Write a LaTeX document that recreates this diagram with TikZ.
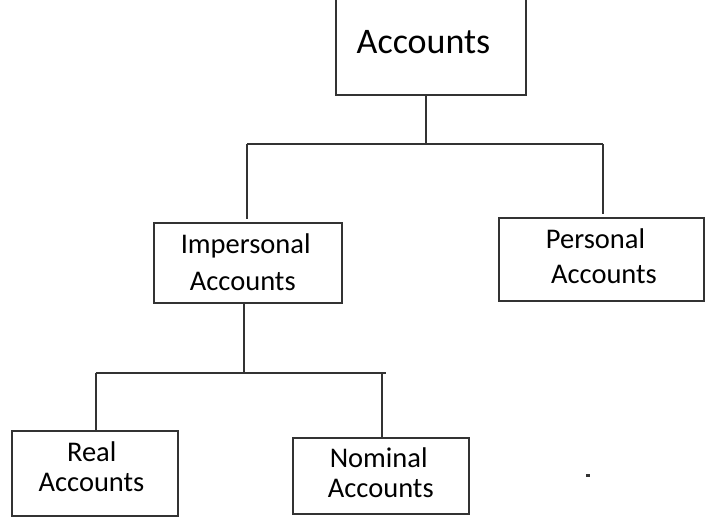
\documentclass[tikz,border=0pt]{standalone}
\usepackage{fontspec}
\setmainfont{Carlito}
\begin{document}
\begin{tikzpicture}[x=1pt,y=-1pt,
  box/.style={draw=black!80, line width=1.7pt, rectangle, inner sep=0pt},
  conn/.style={draw=black!80, line width=1.7pt},
  lbl/.style={anchor=base, inner sep=0pt, font=\fontsize{28.5}{34}\selectfont},
  biglbl/.style={anchor=base, inner sep=0pt, font=\fontsize{36}{40}\selectfont}]
\useasboundingbox (0,0) rectangle (714,521);
% boxes
\node[box, minimum width=190.3pt, minimum height=97pt] (acc) at (430.85,46.5) {};
\node[box, minimum width=187.7pt, minimum height=80pt] (imp) at (247.85,262.7) {};
\node[box, minimum width=205pt, minimum height=82.7pt] (per) at (601.5,259.65) {};
\node[box, minimum width=166.3pt, minimum height=85pt] (real) at (94.85,473.5) {};
\node[box, minimum width=176pt, minimum height=76.6pt] (nom) at (381.3,476) {};
% labels
\node[biglbl] (accT) at (423.5,54) {Accounts};
\node[lbl] (impA) at (245.7,253) {Impersonal};
\node[lbl] (impB) at (242.8,290.7) {Accounts};
\node[lbl] (perA) at (595.5,248.3) {Personal};
\node[lbl] (perB) at (604,283.3) {Accounts};
\node[lbl] (realA) at (91.7,461.7) {Real};
\node[lbl] (realB) at (91.5,491.7) {Accounts};
\node[lbl] (nomA) at (378.7,467.7) {Nominal};
\node[lbl] (nomB) at (380.8,497.7) {Accounts};
% junction coordinates
\coordinate (j0) at (426,144);
\coordinate (j0l) at (247,144);
\coordinate (j0r) at (603,144);
\coordinate (impTop) at (247,219);
\coordinate (perTop) at (603,214);
\coordinate (j1) at (244,372.7);
\coordinate (j1l) at (95.7,372.7);
\coordinate (j1r) at (385.7,372.7);
\coordinate (j1n) at (382,372.7);
% connectors
\draw[conn] (acc.south -| j0) -- (j0);
\draw[conn] (j0l) -- (j0r);
\draw[conn] (j0l) -- (impTop);
\draw[conn] (perTop) -- (j0r);
\draw[conn] (imp.south -| j1) -- (j1);
\draw[conn] (j1l) -- (j1r);
\draw[conn] (j1l) -- (real.north -| j1l);
\draw[conn] (j1n) -- (nom.north -| j1n);
% stray dot
\fill[black!80] (586,474) rectangle (590,476.5);
\end{tikzpicture}
\end{document}
